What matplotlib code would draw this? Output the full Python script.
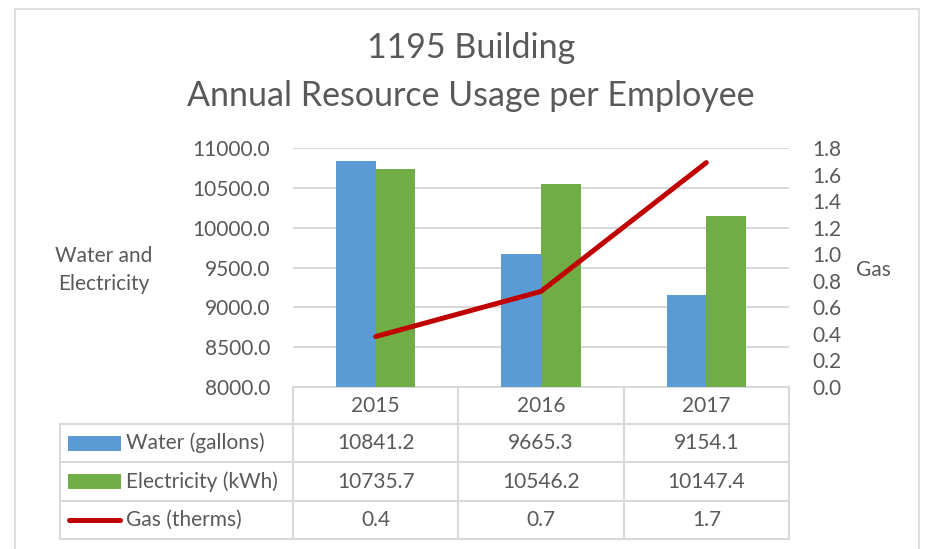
"""
1195 Building annual resource usage per employee, bars + line with a data table underneath.
"""
import matplotlib
matplotlib.use("Agg")
import matplotlib.pyplot as plt
from matplotlib.patches import Rectangle
from matplotlib.lines import Line2D

# Data
years = ["2015", "2016", "2017"]
water = [10841.2, 9665.3, 9154.1]
electricity = [10735.7, 10546.2, 10147.4]
gas = [0.38, 0.72, 1.69]
gas_shown = [0.4, 0.7, 1.7]
series_names = ["Water (gallons)", "Electricity (kWh)", "Gas (therms)"]

# Some constants
W, H = 932, 549
BLUE = "#5B9BD5"
GREEN = "#70AD47"
RED = "#C00000"
TEXT = "#595959"
GRID = "#D9D9D9"
FONT = "Lato"
FS = 15

plt.rcParams["font.family"] = [FONT, "DejaVu Sans"]


def px(x, y):
    """pixel (top-left origin) -> figure fraction"""
    return x / W, 1 - y / H


def main():
    fig = plt.figure(figsize=(W / 100, H / 100), dpi=100)

    # chart frame
    fig.patches.append(Rectangle((15 / W, -0.05), (919 - 15) / W, 1.05 - 9 / H,
                                 transform=fig.transFigure, fill=False,
                                 edgecolor=GRID, linewidth=1.2))

    ax_l, ax_r, ax_t, ax_b = 293, 789, 148, 387
    ax = fig.add_axes([ax_l / W, 1 - ax_b / H, (ax_r - ax_l) / W, (ax_b - ax_t) / H])
    x = list(range(len(years)))
    bw = 0.24
    ax.bar([i - bw / 2 for i in x], water, width=bw, color=BLUE, zorder=2)
    ax.bar([i + bw / 2 for i in x], electricity, width=bw, color=GREEN, zorder=2)
    ax.set_xlim(-0.5, len(years) - 0.5)
    ax.set_ylim(8000, 11000)
    ax.set_yticks(range(8000, 11001, 500))
    ax.set_yticklabels([f"{v:.1f}" for v in range(8000, 11001, 500)])
    ax.set_xticks([])
    ax.yaxis.grid(True, color=GRID, linewidth=1.5, zorder=0)
    ax.set_axisbelow(True)
    ax.tick_params(axis="y", length=0, pad=16.5, labelsize=FS, labelcolor=TEXT)
    for s in ax.spines.values():
        s.set_visible(False)

    ax2 = ax.twinx()
    ax2.plot(x, gas, color=RED, linewidth=3.6, solid_capstyle="round",
             solid_joinstyle="round", zorder=3)
    ax2.set_ylim(0, 1.8)
    ax2.set_yticks([i / 5 for i in range(10)])
    ax2.set_yticklabels([f"{i / 5:.1f}" for i in range(10)])
    ax2.tick_params(axis="y", length=0, pad=16.5, labelsize=FS, labelcolor=TEXT)
    for s in ax2.spines.values():
        s.set_visible(False)

    # titles / axis labels
    fig.text(*px(471, 48), "1195 Building", ha="center", va="center",
             fontsize=24.5, color=TEXT)
    fig.text(*px(471, 96), "Annual Resource Usage per Employee", ha="center",
             va="center", fontsize=24.5, color=TEXT)
    fig.text(*px(104, 270), "Water and\nElectricity", ha="center", va="center",
             fontsize=FS, color=TEXT, linespacing=1.45)
    fig.text(*px(873, 270), "Gas", ha="center", va="center", fontsize=FS, color=TEXT)

    # data table (pixel overlay)
    tab = fig.add_axes([0, 0, 1, 1], zorder=-1)
    tab.set_xlim(0, W)
    tab.set_ylim(H, 0)
    tab.axis("off")
    col_w = (ax_r - ax_l) / len(years)
    cols = [ax_l + i * col_w for i in range(len(years) + 1)]
    rows = [387, 424, 462, 501, 539]
    left = 60
    lw = 1.5
    tab.plot([cols[0], cols[-1]], [rows[0], rows[0]], color=GRID, lw=lw)
    for r in rows[1:]:
        tab.plot([left, cols[-1]], [r, r], color=GRID, lw=lw)
    for c in cols:
        tab.plot([c, c], [rows[0], rows[-1]], color=GRID, lw=lw)
    tab.plot([left, left], [rows[1], rows[-1]], color=GRID, lw=lw)

    for i, yr in enumerate(years):
        tab.text((cols[i] + cols[i + 1]) / 2, (rows[0] + rows[1]) / 2, yr,
                 ha="center", va="center", fontsize=FS, color=TEXT)
    table_vals = [[f"{v:.1f}" for v in water],
                  [f"{v:.1f}" for v in electricity],
                  [f"{v:.1f}" for v in gas_shown]]
    for r, vals in enumerate(table_vals):
        yc = (rows[r + 1] + rows[r + 2]) / 2
        for i, v in enumerate(vals):
            tab.text((cols[i] + cols[i + 1]) / 2, yc, v, ha="center", va="center",
                     fontsize=FS, color=TEXT)
        tab.text(126, yc, series_names[r], ha="left", va="center",
                 fontsize=FS, color=TEXT)

    # legend keys
    for r, colr in enumerate([BLUE, GREEN]):
        yc = (rows[r + 1] + rows[r + 2]) / 2
        tab.add_patch(Rectangle((68, yc - 7.5), 53, 15, color=colr, lw=0))
    yc = (rows[3] + rows[4]) / 2
    tab.add_line(Line2D([69, 120], [yc, yc], color=RED, lw=3.6, solid_capstyle="round"))

    fig.savefig("out.png", dpi=100)


if __name__ == "__main__":
    main()
